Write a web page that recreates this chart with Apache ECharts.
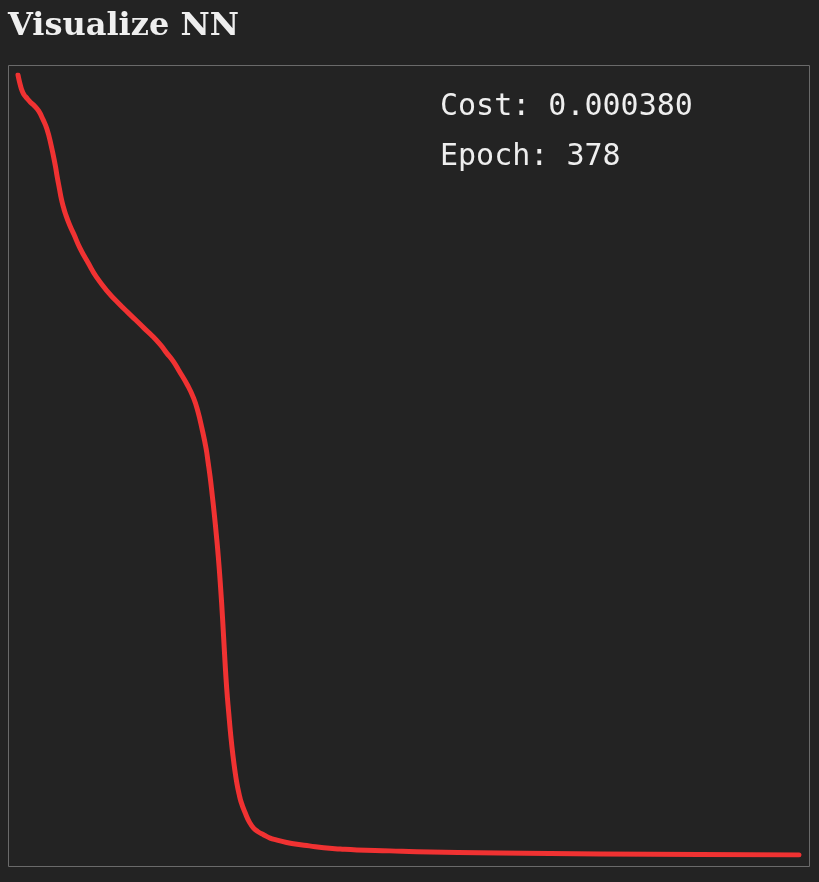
<!DOCTYPE html>
<html>
<head>
<meta charset="utf-8">
<script src="https://cdn.jsdelivr.net/npm/echarts@6/dist/echarts.min.js"></script>
<style>
html,body{margin:0;padding:0;background:#232323;}
#chart{width:819px;height:882px;}
</style>
</head>
<body>
<div id="chart"></div>
<script>
const epochs = [0,1,2,3,4,6,8,10,12,14,16,18,19,20,21,22,23,25,27,30,34,38,44,49,53,57,61,65,69,72,75,78,82,85,87,89,91,92,93,94,95,96,97,98,99,100,101,102,103,104,105,106,107,108,110,112,114,116,119,122,125,130,135,141,148,156,164,180,193,233,282,330,378];
const costs = [0.2500,0.2471,0.2449,0.2436,0.2428,0.2413,0.2401,0.2385,0.2359,0.2327,0.2276,0.2212,0.2173,0.2138,0.2103,0.2077,0.2055,0.2020,0.1991,0.1946,0.1898,0.1853,0.1802,0.1767,0.1741,0.1716,0.1690,0.1665,0.1636,0.1610,0.1585,0.1553,0.1508,0.1466,0.1425,0.1370,0.1306,0.1261,0.1213,0.1156,0.1095,0.1028,0.0954,0.0865,0.0762,0.0644,0.0538,0.0458,0.0385,0.0324,0.0273,0.0231,0.0199,0.0173,0.0138,0.0109,0.0090,0.0079,0.0068,0.0058,0.0052,0.0044,0.0038,0.0033,0.0027,0.0023,0.0020,0.0017,0.0014,0.0010,0.0007,0.00054,0.00038];

const data = epochs.map((e, i) => [e, costs[i]]);
const lastCost = costs[costs.length - 1];
const lastEpoch = epochs[epochs.length - 1];

const chart = echarts.init(document.getElementById('chart'), null, {renderer: 'canvas'});
chart.setOption({
  backgroundColor: '#232323',
  animation: false,
  title: {
    text: 'Visualize NN',
    left: 3,
    top: 6,
    textStyle: {
      fontFamily: 'DejaVu Serif',
      fontWeight: 'bold',
      fontSize: 32,
      color: '#efefef'
    }
  },
  grid: {left: 18, right: 20, top: 75, bottom: 27},
  xAxis: {
    type: 'value', min: 0, max: lastEpoch, show: false
  },
  yAxis: {
    type: 'value', min: 'dataMin', max: 'dataMax', show: false
  },
  graphic: [
    {
      type: 'rect',
      shape: {x: 8.5, y: 65.5, width: 801, height: 801},
      style: {fill: 'none', stroke: '#6a6a6a', lineWidth: 1},
      z: 1
    },
    {
      type: 'text',
      x: 440, y: 92,
      style: {
        text: 'Cost: ' + lastCost.toFixed(6),
        font: '30px "DejaVu Sans Mono"',
        fill: '#eeeeee'
      },
      z: 10
    },
    {
      type: 'text',
      x: 440, y: 142,
      style: {
        text: 'Epoch: ' + lastEpoch,
        font: '30px "DejaVu Sans Mono"',
        fill: '#eeeeee'
      },
      z: 10
    }
  ],
  series: [{
    type: 'line',
    data: data,
    smooth: 0.5,
    showSymbol: false,
    lineStyle: {color: '#f03232', width: 5, cap: 'round', join: 'round'}
  }]
});
</script>
</body>
</html>
